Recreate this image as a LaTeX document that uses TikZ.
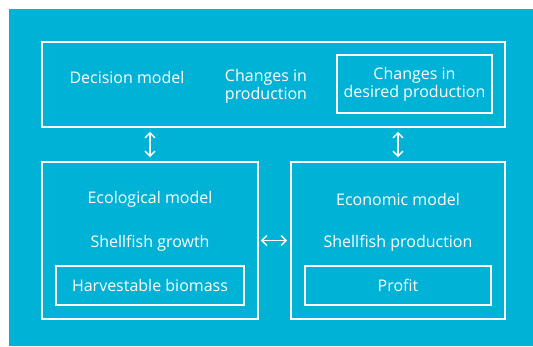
\documentclass[tikz,border=0pt]{standalone}
\usepackage{fontspec}
\setmainfont{Open Sans}
\usetikzlibrary{arrows.meta,positioning}
\definecolor{seacyan}{RGB}{0,178,214}

\begin{document}
\begin{tikzpicture}[x=1pt,y=-1pt,
  box/.style={draw=white,line width=1.8pt,inner sep=0pt,
              text=white,align=center,font=\modelfont},
  lbl/.style={text=white,align=center,font=\modelfont},
  arr/.style={{Straight Barb[length=5pt,width=10pt]}-{Straight Barb[length=5pt,width=10pt]},
              draw=white,line width=1.4pt}
]
\newcommand{\modelfont}{\fontsize{16}{18}\selectfont}
% frame
\fill[white] (0,0) rectangle (533,346);
\fill[seacyan] (9,9) rectangle (533,346);

% outer models
\node[box,minimum width=463pt,minimum height=85pt] (decision) at (273.5,84.5) {};
\node[box,minimum width=216pt,minimum height=157pt] (ecol) at (150,240.5) {};
\node[box,minimum width=214pt,minimum height=157pt] (econ) at (398,240.5) {};

% decision model
\node[lbl] (declbl) at (127,77.5) {Decision model};
\node[lbl] (chg) at (266,86.5) {Changes in\\production};
\node[box,minimum width=155pt,minimum height=58pt] (desired) at (414.5,84)
  {Changes in\\desired production};

% ecological model
\node[lbl] (ecollbl) at (150,199.5) {Ecological model};
\node[lbl] (growth) at (150,243.5) {Shellfish growth};
\node[box,minimum width=188pt,minimum height=39pt] (biomass) at (150,285.5)
  {Harvestable biomass};

% economic model
\node[lbl] (econlbl) at (398,199.5) {Economic model};
\node[lbl] (prod) at (398,243.5) {Shellfish production};
\node[box,minimum width=186pt,minimum height=39pt] (profit) at (398,285.5) {Profit};

% links
\draw[arr,shorten <=4pt,shorten >=4pt] (ecol.north |- decision.south) -- (ecol.north);
\draw[arr,shorten <=4pt,shorten >=4pt] (econ.north |- decision.south) -- (econ.north);
\draw[arr,shorten <=2pt,shorten >=3pt] (ecol.east) -- (econ.west);
\end{tikzpicture}
\end{document}
